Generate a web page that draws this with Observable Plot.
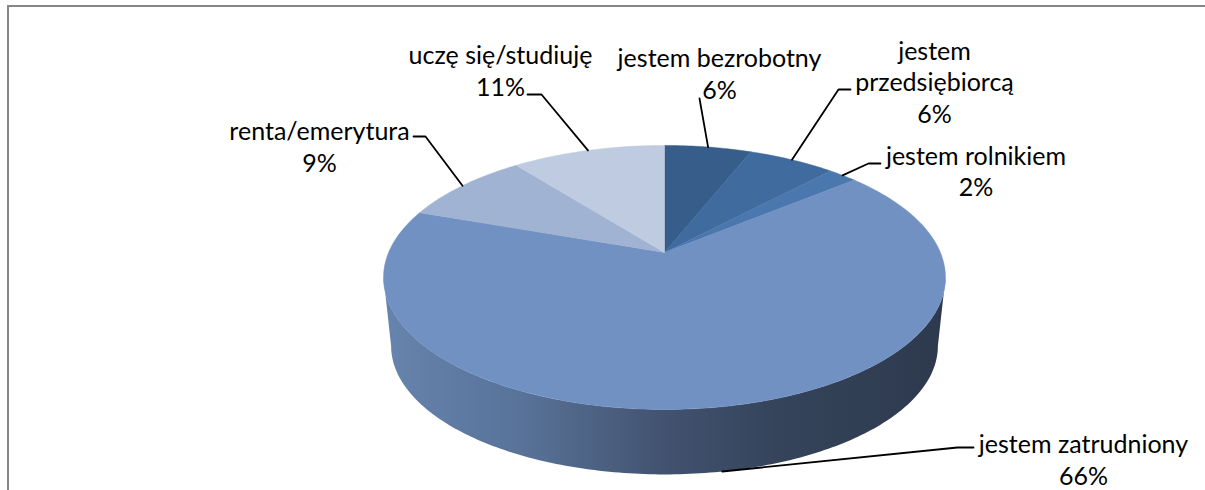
<!DOCTYPE html>
<html>
<head>
<meta charset="utf-8">
<style>html,body{margin:0;padding:0;background:#fff;overflow:hidden}svg{display:block}</style>
<script src="https://cdn.jsdelivr.net/npm/d3@7"></script>
<script src="https://cdn.jsdelivr.net/npm/@observablehq/plot@0.6"></script>
</head>
<body>
<div id="chart"></div>
<script>
// Data, clockwise from twelve o'clock (shares; the labels show them rounded)
const categories = ["jestem bezrobotny", "jestem\nprzedsiębiorcą", "jestem rolnikiem", "jestem zatrudniony", "renta/emerytura", "uczę się/studiuję"];
const values = [6, 6, 2, 66.4, 9, 10.6];

// Styles
const sliceColors = ["#375d8a", "#3f6b9f", "#4a78ae", "#7191c3", "#a0b3d3", "#bfcbe0"];
const wallStops = [[0, "#6784ae"], [0.25, "#587298"], [0.5, "#42526f"], [0.7, "#35445b"], [1, "#2d394d"]];

// Layout: label centre, and the elbow of its leader (x from, x to, y)
const labelAt = [[719, 72.5], [934, 80.5], [975.5, 170], [1083, 458.5], [319, 145.5], [500, 69.5]];
const elbows = [null, [850, 838, 89], [880, 868, 163], [973, 957, 447], [413, 425, 136], [527, 541, 94]];
const apex = [664, 252], tilt = 0.189, spanX = 275.9, spanY = 127.3;
const wallScale = 0.973, wallDrop = 68.5, ellipseCy = 277;

// Perspective view of the disc: t is a share of the full turn, clockwise from the top
function rim(t) {
  const a = t * 2 * Math.PI, w = 1 + tilt * Math.cos(a);
  return [apex[0] + spanX * Math.sin(a) / w, apex[1] - spanY * Math.cos(a) / w];
}
function lowerRim(t) {
  const [x, y] = rim(t);
  return [apex[0] + (x - apex[0]) * wallScale, ellipseCy + wallDrop + (y - ellipseCy) * wallScale];
}

const total = d3.sum(values);
const ends = d3.cumsum(values).map(v => v / total);
const starts = [0, ...ends.slice(0, -1)];

const sliceRows = categories.flatMap((name, i) => {
  const n = Math.max(8, Math.round((ends[i] - starts[i]) * 360));
  const arc = d3.range(n + 1).map(k => rim(starts[i] + (ends[i] - starts[i]) * k / n));
  return [apex, ...arc, apex].map(([x, y]) => ({name, x, y}));
});

// Side wall: front half between the two tangent points
const t0 = Math.acos(-tilt) / (2 * Math.PI), t1 = 1 - t0;
const wallTs = d3.range(181).map(k => t0 + (t1 - t0) * k / 180);
const wallRows = [...wallTs.map(rim), ...wallTs.slice().reverse().map(lowerRim)].map(([x, y]) => ({x, y}));

// Leaders start at each slice's mid-angle, on the rim (the front slice on the lower rim)
const leaderRows = categories.flatMap((name, i) => {
  const mid = (starts[i] + ends[i]) / 2;
  const anchor = mid > t0 && mid < t1 ? lowerRim(mid) : rim(mid);
  const pts = i === 0 ? [[699, 98], anchor]
    : [[elbows[i][0], elbows[i][2]], [elbows[i][1], elbows[i][2]], anchor];
  return pts.map(([x, y]) => ({name, x, y}));
});

const labelRows = categories.map((name, i) => ({
  text: `${name}\n${Math.round(values[i])}%`, x: labelAt[i][0], y: labelAt[i][1]
}));

const defs = () => {
  const d = d3.create("svg:defs");
  const g = d.append("linearGradient").attr("id", "wall").attr("x1", 0).attr("x2", 1).attr("y1", 0).attr("y2", 0);
  wallStops.forEach(([o, c]) => g.append("stop").attr("offset", o).attr("stop-color", c));
  return d.node();
};

const chart = Plot.plot({
  width: 1205, height: 490,
  margin: 0,
  x: {domain: [0, 1205], range: [0, 1205], axis: null},
  y: {domain: [0, 490], range: [0, 490], axis: null},
  color: {domain: categories, range: sliceColors},
  style: {fontFamily: "Lato, 'Open Sans', sans-serif", background: "#fff", overflow: "hidden"},
  marks: [
    defs,
    Plot.ruleY([5.5], {x1: 7, x2: 1205, stroke: "#868686", strokeWidth: 2}),
    Plot.ruleX([7.5], {y1: 5, y2: 490, stroke: "#868686", strokeWidth: 2}),
    Plot.line(wallRows, {x: "x", y: "y", fill: "url(#wall)", stroke: "none"}),
    Plot.line(sliceRows, {x: "x", y: "y", z: "name", fill: "name", stroke: "name", strokeWidth: 0.5}),
    Plot.line(leaderRows, {x: "x", y: "y", z: "name", stroke: "#000", strokeWidth: 1.8}),
    Plot.text(labelRows, {x: "x", y: "y", text: "text", fontSize: 25, lineHeight: 1.26, fill: "#000", textAnchor: "middle", lineAnchor: "middle"})
  ]
});
document.getElementById("chart").append(chart);
</script>
</body>
</html>
